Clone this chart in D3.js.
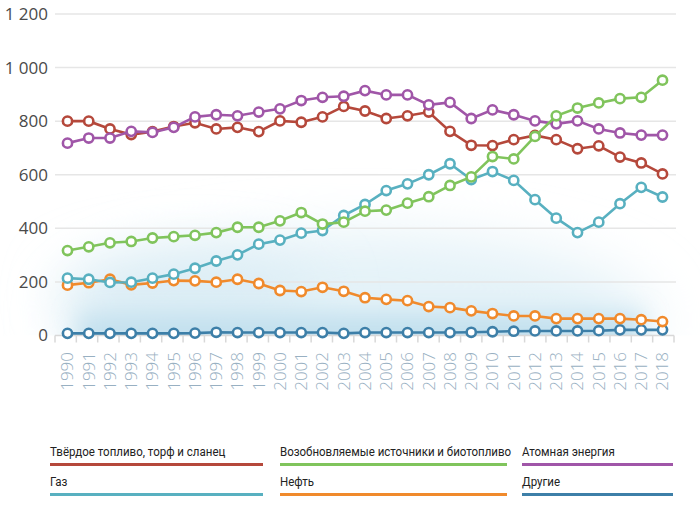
<!DOCTYPE html>
<html>
<head>
<meta charset="utf-8">
<script src="https://cdn.jsdelivr.net/npm/d3@7"></script>
<style>
  body { margin: 0; background: #fff; }
  svg { display: block; }
  .ylab text { font-family: "Open Sans", sans-serif; font-weight: 400; font-size: 17px; fill: #4a4a4a; }
  .xlab { font-family: "Open Sans", sans-serif; font-weight: 300; font-size: 17px; fill: #98b0c2; }
  .legend text { font-family: Roboto, "Open Sans", sans-serif; font-size: 12.8px; fill: #222; }
</style>
</head>
<body>
<svg id="chart" width="700" height="506"></svg>
<script>
// years on the x axis
const years = d3.range(1990, 2019)

// values
const solidFuel = [800, 800, 771, 750, 761, 780, 794, 771, 777, 761, 801, 796, 816, 855, 838, 810, 820, 834, 762, 710, 709, 731, 747, 731, 697, 708, 666, 644, 603]
const renewables = [317, 331, 346, 351, 364, 369, 374, 384, 404, 404, 428, 459, 416, 423, 464, 468, 494, 518, 560, 592, 668, 659, 743, 820, 849, 868, 884, 889, 953]
const nuclear = [718, 737, 737, 762, 758, 777, 816, 824, 820, 834, 846, 877, 889, 893, 914, 898, 898, 861, 870, 810, 842, 824, 801, 790, 801, 771, 756, 748, 748]
const gas = [214, 210, 198, 199, 214, 229, 251, 278, 301, 341, 356, 382, 392, 448, 489, 541, 566, 600, 641, 582, 612, 579, 507, 438, 384, 423, 492, 553, 517]
const oil = [188, 197, 210, 189, 196, 205, 204, 199, 210, 194, 168, 164, 180, 165, 141, 135, 130, 108, 104, 92, 82, 73, 73, 63, 63, 63, 63, 59, 52]
const other = [8, 8, 8, 8, 8, 8, 9, 12, 11, 11, 11, 11, 11, 8, 11, 11, 11, 11, 11, 12, 14, 16, 17, 17, 17, 18, 21, 21, 21]

const yTicks = [0, 200, 400, 600, 800, 1000, 1200]

const seriesNames = ['Другие', 'Нефть', 'Газ', 'Твёрдое топливо, торф и сланец', 'Атомная энергия', 'Возобновляемые источники и биотопливо']
const seriesValues = [other, oil, gas, solidFuel, nuclear, renewables]
const seriesColors = ['#3d7fa8', '#f08a2c', '#58b0c0', '#b5483b', '#a056a8', '#80c45c']

// legend order (rows of three)
const legendOrder = [3, 5, 4, 2, 1, 0]

const svg = d3.select('#chart')
const plotLeft = 55, plotRight = 674, plotTop = 14, plotBottom = 335.5

const xBand = d3.scaleBand().domain(years).range([plotLeft, plotRight])
const x = d3.scalePoint().domain(years).range([67.5, 662.5])
const y = d3.scaleLinear().domain([0, 1200]).range([plotBottom, plotTop])

// soft blue glow behind the lower part
const defs = svg.append('defs')
const blur = (id, sd) => defs.append('filter').attr('id', id)
  .attr('x', '-50%').attr('y', '-100%').attr('width', '200%').attr('height', '300%')
  .append('feGaussianBlur').attr('stdDeviation', sd)
blur('blurA', 28)
blur('blurB', 12)
defs.append('clipPath').attr('id', 'plotclip')
  .append('rect').attr('x', 0).attr('y', 0).attr('width', 700).attr('height', plotBottom)

const glow = svg.append('g').attr('clip-path', 'url(#plotclip)')
glow.append('ellipse')
  .attr('cx', 360).attr('cy', 320).attr('rx', 295).attr('ry', 85)
  .attr('fill', '#e4f2f8').attr('filter', 'url(#blurA)')
glow.append('ellipse')
  .attr('cx', 190).attr('cy', 295).attr('rx', 130).attr('ry', 40)
  .attr('fill', '#dcedf5').attr('filter', 'url(#blurA)')
glow.append('rect')
  .attr('x', 78).attr('y', 314).attr('width', 565).attr('height', 40)
  .attr('fill', '#c2e0ee').attr('filter', 'url(#blurB)')

// grid
svg.append('g')
  .selectAll('line')
  .data(yTicks.filter(d => d > 0))
  .enter()
  .append('line')
  .attr('x1', plotLeft)
  .attr('x2', plotRight + 2)
  .attr('y1', d => y(d))
  .attr('y2', d => y(d))
  .attr('stroke', '#e6e6e6')
  .attr('stroke-width', 1.5)

// baseline + ticks at band edges
svg.append('line')
  .attr('x1', plotLeft).attr('x2', plotRight)
  .attr('y1', plotBottom).attr('y2', plotBottom)
  .attr('stroke', '#d8d8d8').attr('stroke-width', 1.5)
svg.append('g')
  .selectAll('line')
  .data(years.concat([2019]))
  .enter()
  .append('line')
  .attr('x1', d => d < 2019 ? xBand(d) : plotRight)
  .attr('x2', d => d < 2019 ? xBand(d) : plotRight)
  .attr('y1', plotBottom)
  .attr('y2', plotBottom + 7)
  .attr('stroke', '#d8d8d8')
  .attr('stroke-width', 1.5)

// y labels
svg.append('g')
  .attr('class', 'ylab')
  .attr('transform', `translate(${plotLeft}, 0)`)
  .call(d3.axisLeft(y)
    .tickValues(yTicks)
    .tickSize(0)
    .tickPadding(7)
    .tickFormat(d => d3.format(',')(d).replace(',', ' ')))
  .call(g => g.select('.domain').remove())

// x labels, rotated
svg.append('g')
  .selectAll('text')
  .data(years)
  .enter()
  .append('text')
  .attr('class', 'xlab')
  .attr('transform', d => `translate(${x(d)}, 352) rotate(-90)`)
  .attr('text-anchor', 'end')
  .attr('dy', '0.35em')
  .text(d => d)

// lines and markers
const line = d3.line().x((d, i) => x(years[i])).y(d => y(d))
seriesValues.forEach((vals, k) => {
  const g = svg.append('g')
  g.append('path')
    .attr('d', line(vals))
    .attr('fill', 'none')
    .attr('stroke', seriesColors[k])
    .attr('stroke-width', 2.6)
  g.selectAll('circle')
    .data(vals)
    .enter()
    .append('circle')
    .attr('cx', (d, i) => x(years[i]))
    .attr('cy', d => y(d))
    .attr('r', 4.6)
    .attr('fill', '#fff')
    .attr('stroke', seriesColors[k])
    .attr('stroke-width', 2.6)
})

// legend (text squeezed a little, the original uses a condensed face)
const colX = [50, 280, 522]
const colEnd = [263, 507, 673]
const rowY = [456, 486]
const legend = svg.append('g').attr('class', 'legend')
legendOrder.forEach((k, i) => {
  const c = i % 3, r = Math.floor(i / 3)
  legend.append('text')
    .attr('transform', `translate(${colX[c]}, ${rowY[r]}) scale(0.9, 1)`)
    .text(seriesNames[k])
  legend.append('line')
    .attr('x1', colX[c])
    .attr('x2', colEnd[c])
    .attr('y1', rowY[r] + 8.5)
    .attr('y2', rowY[r] + 8.5)
    .attr('stroke', seriesColors[k])
    .attr('stroke-width', 3)
})
</script>
</body>
</html>
